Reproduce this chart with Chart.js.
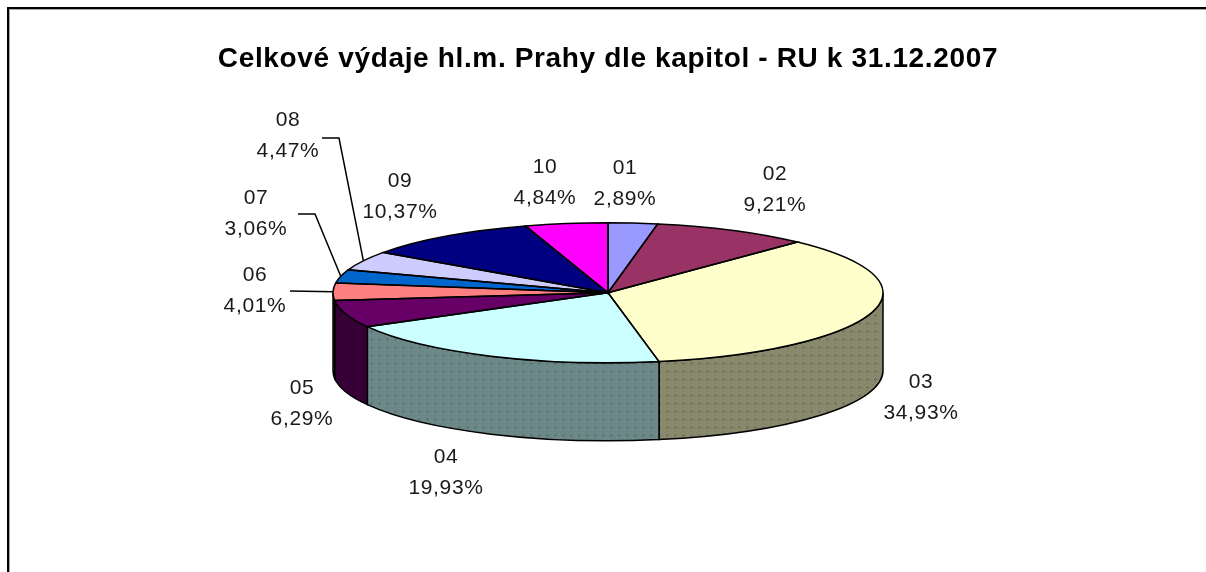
<!DOCTYPE html>
<html>
<head>
<meta charset="utf-8">
<title>Celkové výdaje</title>
<script src="https://cdn.jsdelivr.net/npm/chart.js@4"></script>
<style>
  html, body { margin: 0; padding: 0; background: #fff; }
  #wrap { position: relative; width: 1206px; height: 572px; overflow: hidden; }
  #frame {
    position: absolute; left: 7px; top: 7px; right: -10px; bottom: -10px;
    border-top: 2px solid #000; border-left: 2px solid #000;
    box-shadow: inset 1px 1px 0 #a8a8a8; pointer-events: none;
  }
</style>
</head>
<body>
<div id="wrap">
  <canvas id="pieChart" width="1206" height="572"></canvas>
  <div id="frame"></div>
</div>
<script>
var chartTitle = "Celkové výdaje hl.m. Prahy dle kapitol - RU k 31.12.2007";
var categories = ["01", "02", "03", "04", "05", "06", "07", "08", "09", "10"];
var shares = [2.89, 9.21, 34.93, 19.93, 6.29, 4.01, 3.06, 4.47, 10.37, 4.84];
var sliceColors = ["#9999FF", "#993366", "#FFFFCC", "#CCFFFF", "#660066", "#FF8080", "#0066CC", "#CCCCFF", "#000080", "#FF00FF"];

// label centre x and first line baseline, same order as categories
var labelX = [625, 775, 921, 446, 302, 255, 256, 288, 400, 545];
var labelY = [174, 180, 388, 463, 394, 281, 204, 126, 187, 173];
// leader lines run from the label to the rim of the slice
var leaders = {
  "06": [[290, 291]],
  "07": [[298, 214], [315, 214]],
  "08": [[322, 138], [339, 138]]
};

var pieRadius = 275;
var tilt = 0.2545;
var wallDepth = 78;

function shade(hex, f) {
  var r = parseInt(hex.substr(1, 2), 16) * f;
  var g = parseInt(hex.substr(3, 2), 16) * f;
  var b = parseInt(hex.substr(5, 2), 16) * f;
  return "rgb(" + Math.round(r) + "," + Math.round(g) + "," + Math.round(b) + ")";
}

// the 3D walls are dithered, a checker with a darker cross every 8 pixels
function wallPattern(ctx, hex) {
  var c = document.createElement("canvas");
  c.width = 8;
  c.height = 8;
  var p = c.getContext("2d");
  for (var y = 0; y < 8; y++) {
    for (var x = 0; x < 8; x++) {
      var cross = (x === 3 && y >= 2 && y <= 4) || (y === 3 && x >= 2 && x <= 4);
      p.fillStyle = shade(hex, cross ? 0.46 : (x + y) % 2 ? 0.57 : 0.5);
      p.fillRect(x, y, 1, 1);
    }
  }
  return ctx.createPattern(c, "repeat");
}

var tiltedPie = {
  id: "tiltedPie",
  beforeDraw: function (chart) {
    // the reference text is a stretched bitmap font, so space it out a bit
    chart.ctx.letterSpacing = "0.65px";
  },
  beforeDatasetsDraw: function (chart) {
    var ctx = chart.ctx;
    var arcs = chart.getDatasetMeta(0).data;
    ctx.save();
    ctx.lineWidth = 1.5;
    ctx.strokeStyle = "#000";
    arcs.forEach(function (arc, i) {
      // only the front half of the rim shows a wall
      var a = Math.max(arc.startAngle, 0);
      var b = Math.min(arc.endAngle, Math.PI);
      if (b <= a) return;
      var rx = arc.outerRadius;
      var ry = rx * tilt;
      ctx.beginPath();
      ctx.ellipse(arc.x, arc.y, rx, ry, 0, a, b);
      ctx.ellipse(arc.x, arc.y + wallDepth, rx, ry, 0, b, a, true);
      ctx.closePath();
      ctx.fillStyle = wallPattern(ctx, sliceColors[i]);
      ctx.fill();
      ctx.stroke();
    });
    ctx.restore();
  },
  beforeDatasetDraw: function (chart) {
    var ctx = chart.ctx;
    var first = chart.getDatasetMeta(0).data[0];
    ctx.save();
    ctx.translate(first.x, first.y);
    ctx.scale(1, tilt);
    ctx.translate(-first.x, -first.y);
  },
  afterDatasetDraw: function (chart) {
    var ctx = chart.ctx;
    ctx.restore();
    ctx.save();
    ctx.lineWidth = 1.5;
    ctx.strokeStyle = "#000";
    chart.getDatasetMeta(0).data.forEach(function (arc) {
      ctx.beginPath();
      ctx.moveTo(arc.x, arc.y);
      ctx.ellipse(arc.x, arc.y, arc.outerRadius, arc.outerRadius * tilt, 0, arc.startAngle, arc.endAngle);
      ctx.closePath();
      ctx.stroke();
    });
    ctx.restore();
  },
  afterDatasetsDraw: function (chart) {
    var ctx = chart.ctx;
    var arcs = chart.getDatasetMeta(0).data;
    ctx.save();
    ctx.font = "21px 'Liberation Sans'";
    ctx.fillStyle = "#1a1a1a";
    ctx.textAlign = "center";
    categories.forEach(function (name, i) {
      ctx.fillText(name, labelX[i], labelY[i]);
      ctx.fillText(shares[i].toFixed(2).replace(".", ",") + "%", labelX[i], labelY[i] + 31);

      if (leaders[name]) {
        var arc = arcs[i];
        var mid = (arc.startAngle + arc.endAngle) / 2;
        ctx.beginPath();
        leaders[name].forEach(function (pt, n) {
          if (n === 0) ctx.moveTo(pt[0], pt[1]);
          else ctx.lineTo(pt[0], pt[1]);
        });
        ctx.lineTo(arc.x + Math.cos(mid) * arc.outerRadius, arc.y + Math.sin(mid) * arc.outerRadius * tilt);
        ctx.lineWidth = 1.5;
        ctx.strokeStyle = "#000";
        ctx.stroke();
      }
    });
    ctx.restore();
  }
};

new Chart(document.getElementById("pieChart"), {
  type: "pie",
  plugins: [tiltedPie],
  data: {
    labels: categories,
    datasets: [{
      data: shares,
      backgroundColor: sliceColors,
      borderWidth: 0,
      clip: false
    }]
  },
  options: {
    responsive: false,
    animation: false,
    radius: pieRadius,
    layout: { padding: { left: 10, top: 0, bottom: 62 } },
    plugins: {
      legend: { display: false },
      tooltip: { enabled: false },
      title: {
        display: true,
        text: chartTitle,
        color: "#000",
        font: { family: "'Liberation Sans'", size: 28, weight: "bold" },
        padding: { top: 42, bottom: 0 }
      }
    }
  }
});
</script>
</body>
</html>
